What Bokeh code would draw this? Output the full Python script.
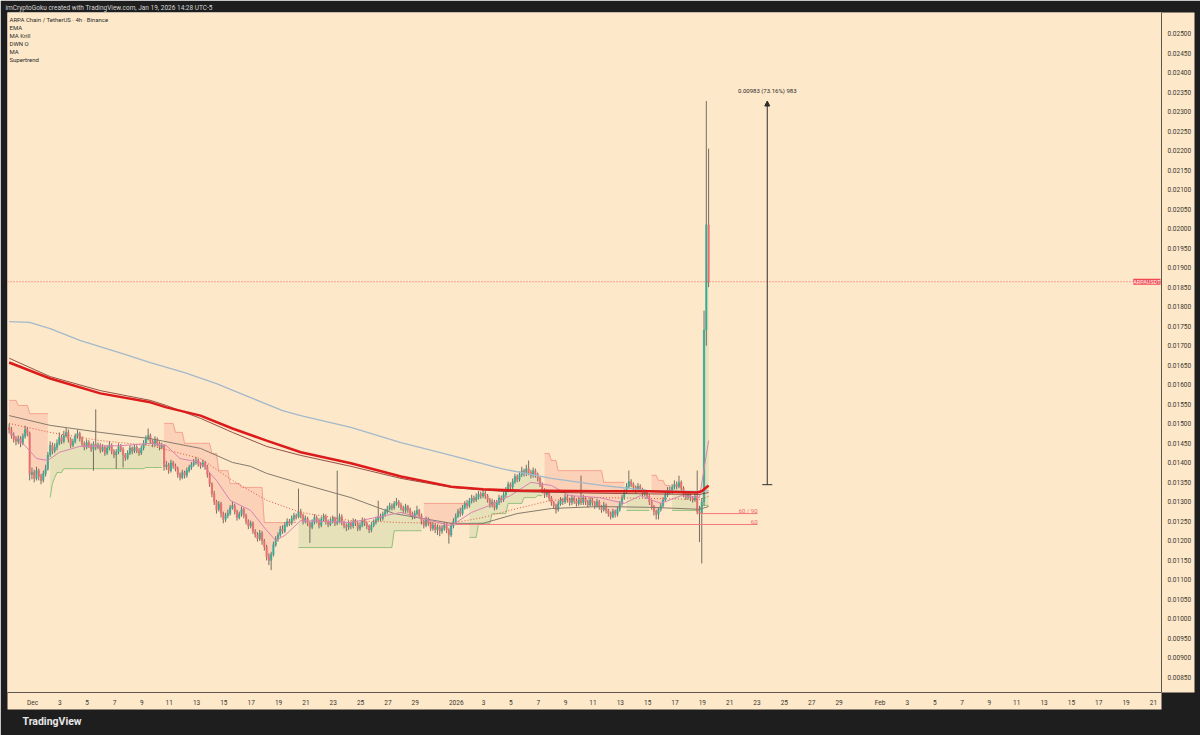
import pandas as pd
from bokeh.plotting import figure
from bokeh.models import (Range1d, FixedTicker, PrintfTickFormatter, Label, Title,
                          Arrow, NormalHead, TeeHead, Span)
from bokeh.embed import file_html
from bokeh.resources import INLINE

# ---------------- data ----------------
BAR_START = "2025-11-29 07:00"   # first 4h candle
FIRST_OPEN = 0.01490
CLOSE = [
    0.01485, 0.01470, 0.01460, 0.01455, 0.01462, 0.01450, 0.01468, 0.01485, 0.01475, 0.01370,
    0.01375, 0.01360, 0.01380, 0.01365, 0.01355, 0.01372, 0.01385, 0.01420, 0.01445, 0.01430,
    0.01440, 0.01450, 0.01465, 0.01455, 0.01470, 0.01478, 0.01460, 0.01445, 0.01455, 0.01468,
    0.01475, 0.01462, 0.01450, 0.01440, 0.01452, 0.01445, 0.01435, 0.01448, 0.01440, 0.01445,
    0.01432, 0.01440, 0.01425, 0.01438, 0.01445, 0.01430, 0.01420, 0.01428, 0.01442, 0.01435,
    0.01420, 0.01412, 0.01425, 0.01438, 0.01430, 0.01440, 0.01432, 0.01425, 0.01438, 0.01450,
    0.01462, 0.01470, 0.01455, 0.01448, 0.01460, 0.01450, 0.01440, 0.01445, 0.01390, 0.01395,
    0.01380, 0.01400, 0.01392, 0.01385, 0.01370, 0.01362, 0.01375, 0.01368, 0.01380, 0.01388,
    0.01395, 0.01400, 0.01405, 0.01398, 0.01392, 0.01400, 0.01390, 0.01370, 0.01345, 0.01320,
    0.01300, 0.01280, 0.01295, 0.01270, 0.01255, 0.01265, 0.01270, 0.01285, 0.01290, 0.01275,
    0.01260, 0.01268, 0.01280, 0.01265, 0.01250, 0.01238, 0.01245, 0.01225, 0.01215, 0.01205,
    0.01220, 0.01200, 0.01185, 0.01160, 0.01150, 0.01165, 0.01190, 0.01205, 0.01215, 0.01230,
    0.01225, 0.01240, 0.01250, 0.01245, 0.01258, 0.01265, 0.01262, 0.01275, 0.01265, 0.01250,
    0.01258, 0.01245, 0.01235, 0.01248, 0.01260, 0.01252, 0.01240, 0.01255, 0.01262, 0.01250,
    0.01242, 0.01250, 0.01258, 0.01245, 0.01250, 0.01262, 0.01248, 0.01240, 0.01235, 0.01245,
    0.01238, 0.01250, 0.01245, 0.01232, 0.01240, 0.01252, 0.01245, 0.01238, 0.01228, 0.01240,
    0.01248, 0.01255, 0.01262, 0.01258, 0.01268, 0.01275, 0.01282, 0.01290, 0.01285, 0.01295,
    0.01300, 0.01292, 0.01285, 0.01278, 0.01288, 0.01280, 0.01270, 0.01262, 0.01270, 0.01278,
    0.01265, 0.01250, 0.01240, 0.01255, 0.01245, 0.01232, 0.01240, 0.01228, 0.01235, 0.01225,
    0.01232, 0.01240, 0.01228, 0.01215, 0.01238, 0.01250, 0.01262, 0.01275, 0.01270, 0.01285,
    0.01295, 0.01290, 0.01302, 0.01310, 0.01305, 0.01312, 0.01320, 0.01315, 0.01322, 0.01315,
    0.01305, 0.01292, 0.01300, 0.01285, 0.01298, 0.01310, 0.01305, 0.01318, 0.01330, 0.01345,
    0.01338, 0.01352, 0.01365, 0.01358, 0.01370, 0.01380, 0.01372, 0.01385, 0.01375, 0.01368,
    0.01380, 0.01370, 0.01360, 0.01345, 0.01330, 0.01318, 0.01325, 0.01310, 0.01298, 0.01290,
    0.01280, 0.01295, 0.01305, 0.01300, 0.01312, 0.01305, 0.01298, 0.01310, 0.01302, 0.01295,
    0.01305, 0.01298, 0.01310, 0.01300, 0.01292, 0.01305, 0.01298, 0.01290, 0.01300, 0.01288,
    0.01280, 0.01292, 0.01278, 0.01270, 0.01262, 0.01275, 0.01268, 0.01280, 0.01295, 0.01310,
    0.01325, 0.01340, 0.01352, 0.01345, 0.01338, 0.01330, 0.01340, 0.01332, 0.01320, 0.01325,
    0.01315, 0.01300, 0.01288, 0.01275, 0.01268, 0.01280, 0.01290, 0.01305, 0.01318, 0.01330,
    0.01325, 0.01338, 0.01345, 0.01340, 0.01350, 0.01335, 0.01320, 0.01312, 0.01320, 0.01310,
    0.01305, 0.01315, 0.01275, 0.01270, 0.01300, 0.01740, 0.02010, 0.01864,
]
HIGH = [
    0.01500, 0.01492, 0.01478, 0.01468, 0.01470, 0.01468, 0.01475, 0.01495, 0.01492, 0.01480,
    0.01388, 0.01382, 0.01390, 0.01385, 0.01372, 0.01380, 0.01395, 0.01428, 0.01455, 0.01452,
    0.01450, 0.01460, 0.01478, 0.01472, 0.01482, 0.01490, 0.01485, 0.01465, 0.01462, 0.01475,
    0.01485, 0.01480, 0.01468, 0.01455, 0.01460, 0.01458, 0.01450, 0.01455, 0.01537, 0.01452,
    0.01450, 0.01448, 0.01445, 0.01445, 0.01455, 0.01450, 0.01435, 0.01435, 0.01450, 0.01448,
    0.01440, 0.01425, 0.01432, 0.01445, 0.01442, 0.01448, 0.01445, 0.01438, 0.01445, 0.01458,
    0.01470, 0.01488, 0.01475, 0.01460, 0.01468, 0.01465, 0.01455, 0.01452, 0.01448, 0.01405,
    0.01400, 0.01408, 0.01405, 0.01398, 0.01390, 0.01375, 0.01382, 0.01380, 0.01388, 0.01395,
    0.01402, 0.01410, 0.01415, 0.01410, 0.01402, 0.01408, 0.01405, 0.01395, 0.01375, 0.01350,
    0.01328, 0.01305, 0.01302, 0.01300, 0.01275, 0.01272, 0.01280, 0.01292, 0.01300, 0.01295,
    0.01280, 0.01275, 0.01288, 0.01285, 0.01270, 0.01255, 0.01252, 0.01250, 0.01230, 0.01222,
    0.01228, 0.01225, 0.01205, 0.01190, 0.01168, 0.01172, 0.01198, 0.01212, 0.01222, 0.01238,
    0.01240, 0.01248, 0.01258, 0.01256, 0.01265, 0.01272, 0.01270, 0.01334, 0.01282, 0.01270,
    0.01265, 0.01262, 0.01250, 0.01255, 0.01268, 0.01265, 0.01258, 0.01262, 0.01270, 0.01268,
    0.01255, 0.01258, 0.01265, 0.01262, 0.01380, 0.01270, 0.01268, 0.01252, 0.01245, 0.01252,
    0.01250, 0.01258, 0.01256, 0.01250, 0.01248, 0.01260, 0.01258, 0.01250, 0.01242, 0.01248,
    0.01255, 0.01262, 0.01303, 0.01270, 0.01275, 0.01282, 0.01290, 0.01298, 0.01296, 0.01302,
    0.01310, 0.01305, 0.01298, 0.01290, 0.01295, 0.01292, 0.01285, 0.01275, 0.01278, 0.01290,
    0.01282, 0.01270, 0.01255, 0.01262, 0.01260, 0.01250, 0.01248, 0.01245, 0.01242, 0.01240,
    0.01240, 0.01248, 0.01245, 0.01232, 0.01245, 0.01258, 0.01270, 0.01282, 0.01285, 0.01292,
    0.01302, 0.01305, 0.01310, 0.01318, 0.01316, 0.01322, 0.01328, 0.01326, 0.01330, 0.01328,
    0.01320, 0.01310, 0.01308, 0.01305, 0.01305, 0.01318, 0.01316, 0.01325, 0.01338, 0.01352,
    0.01350, 0.01360, 0.01372, 0.01370, 0.01378, 0.01390, 0.01385, 0.01395, 0.01406, 0.01382,
    0.01388, 0.01385, 0.01375, 0.01365, 0.01350, 0.01335, 0.01332, 0.01330, 0.01315, 0.01302,
    0.01295, 0.01302, 0.01312, 0.01310, 0.01320, 0.01318, 0.01310, 0.01318, 0.01315, 0.01308,
    0.01312, 0.01367, 0.01318, 0.01315, 0.01305, 0.01312, 0.01310, 0.01302, 0.01308, 0.01305,
    0.01292, 0.01300, 0.01296, 0.01282, 0.01275, 0.01282, 0.01280, 0.01288, 0.01302, 0.01318,
    0.01332, 0.01348, 0.01380, 0.01358, 0.01350, 0.01342, 0.01348, 0.01345, 0.01336, 0.01332,
    0.01330, 0.01320, 0.01305, 0.01292, 0.01280, 0.01286, 0.01298, 0.01312, 0.01325, 0.01338,
    0.01340, 0.01345, 0.01355, 0.01352, 0.01367, 0.01355, 0.01340, 0.01325, 0.01328, 0.01325,
    0.01315, 0.01322, 0.01380, 0.01290, 0.01310, 0.01790, 0.02327, 0.02205,
]
LOW = [
    0.01475, 0.01462, 0.01452, 0.01445, 0.01448, 0.01440, 0.01445, 0.01462, 0.01468, 0.01355,
    0.01358, 0.01350, 0.01355, 0.01355, 0.01345, 0.01350, 0.01365, 0.01380, 0.01415, 0.01422,
    0.01425, 0.01432, 0.01445, 0.01448, 0.01450, 0.01465, 0.01452, 0.01438, 0.01440, 0.01450,
    0.01462, 0.01455, 0.01442, 0.01432, 0.01435, 0.01438, 0.01428, 0.01380, 0.01432, 0.01435,
    0.01425, 0.01428, 0.01418, 0.01420, 0.01432, 0.01422, 0.01412, 0.01385, 0.01422, 0.01428,
    0.01388, 0.01405, 0.01408, 0.01420, 0.01422, 0.01425, 0.01425, 0.01418, 0.01420, 0.01432,
    0.01445, 0.01458, 0.01448, 0.01440, 0.01442, 0.01442, 0.01432, 0.01435, 0.01380, 0.01382,
    0.01372, 0.01375, 0.01385, 0.01378, 0.01362, 0.01355, 0.01358, 0.01360, 0.01362, 0.01375,
    0.01382, 0.01390, 0.01395, 0.01390, 0.01385, 0.01388, 0.01382, 0.01362, 0.01338, 0.01312,
    0.01292, 0.01270, 0.01275, 0.01260, 0.01245, 0.01248, 0.01258, 0.01265, 0.01280, 0.01268,
    0.01252, 0.01255, 0.01262, 0.01258, 0.01242, 0.01230, 0.01232, 0.01218, 0.01208, 0.01198,
    0.01200, 0.01190, 0.01175, 0.01150, 0.01138, 0.01125, 0.01160, 0.01185, 0.01198, 0.01210,
    0.01218, 0.01220, 0.01235, 0.01238, 0.01240, 0.01252, 0.01255, 0.01258, 0.01258, 0.01242,
    0.01245, 0.01238, 0.01195, 0.01230, 0.01242, 0.01245, 0.01232, 0.01235, 0.01250, 0.01242,
    0.01235, 0.01238, 0.01245, 0.01238, 0.01240, 0.01245, 0.01240, 0.01232, 0.01225, 0.01228,
    0.01230, 0.01232, 0.01238, 0.01225, 0.01226, 0.01235, 0.01238, 0.01230, 0.01220, 0.01222,
    0.01235, 0.01242, 0.01250, 0.01250, 0.01252, 0.01262, 0.01270, 0.01278, 0.01278, 0.01280,
    0.01290, 0.01285, 0.01278, 0.01270, 0.01272, 0.01272, 0.01262, 0.01255, 0.01256, 0.01265,
    0.01258, 0.01242, 0.01232, 0.01235, 0.01238, 0.01225, 0.01226, 0.01220, 0.01215, 0.01212,
    0.01218, 0.01226, 0.01220, 0.01193, 0.01210, 0.01232, 0.01245, 0.01258, 0.01262, 0.01265,
    0.01280, 0.01282, 0.01285, 0.01296, 0.01298, 0.01300, 0.01306, 0.01308, 0.01310, 0.01308,
    0.01298, 0.01285, 0.01286, 0.01278, 0.01280, 0.01292, 0.01298, 0.01300, 0.01312, 0.01325,
    0.01330, 0.01332, 0.01346, 0.01350, 0.01352, 0.01364, 0.01365, 0.01366, 0.01368, 0.01360,
    0.01362, 0.01362, 0.01352, 0.01338, 0.01322, 0.01310, 0.01312, 0.01302, 0.01290, 0.01282,
    0.01270, 0.01275, 0.01290, 0.01292, 0.01295, 0.01298, 0.01290, 0.01292, 0.01295, 0.01288,
    0.01290, 0.01292, 0.01292, 0.01292, 0.01285, 0.01288, 0.01290, 0.01282, 0.01285, 0.01280,
    0.01272, 0.01275, 0.01270, 0.01262, 0.01255, 0.01258, 0.01260, 0.01262, 0.01275, 0.01290,
    0.01305, 0.01320, 0.01335, 0.01338, 0.01330, 0.01322, 0.01325, 0.01325, 0.01312, 0.01314,
    0.01308, 0.01292, 0.01280, 0.01265, 0.01255, 0.01255, 0.01275, 0.01285, 0.01300, 0.01312,
    0.01318, 0.01320, 0.01332, 0.01332, 0.01335, 0.01328, 0.01312, 0.01305, 0.01306, 0.01302,
    0.01298, 0.01300, 0.01268, 0.01197, 0.01142, 0.01290, 0.01700, 0.01850,
]

# indicator lines: (bar index, price)
MA_BLUE = [(0, 0.01762), (9, 0.01760), (18, 0.01744), (31, 0.01714), (48, 0.01683), (62, 0.01657),
           (77, 0.01631), (91, 0.01603), (106, 0.01567), (120, 0.01534), (128, 0.01521), (150, 0.01491),
           (172, 0.01452), (194, 0.01419), (216, 0.01385), (238, 0.01360), (260, 0.01342), (281, 0.01329),
           (303, 0.01327), (307, 0.01329)]
EMA_RED = [(0, 0.01657), (18, 0.01616), (40, 0.01578), (62, 0.01555), (69, 0.01542), (84, 0.01521),
           (98, 0.01488), (113, 0.01457), (128, 0.01427), (150, 0.01399), (172, 0.01365), (194, 0.01339),
           (208, 0.01332), (224, 0.01329), (259, 0.01327), (281, 0.01327), (302, 0.01324), (304, 0.01327),
           (307, 0.01342)]
MA_MAROON = [(0, 0.01668), (18, 0.01621), (40, 0.01585), (62, 0.01560), (69, 0.01547), (84, 0.01514),
             (98, 0.01478), (113, 0.01442), (128, 0.01419), (150, 0.01391), (172, 0.01360), (194, 0.01337),
             (216, 0.01327), (259, 0.01322), (303, 0.01319), (307, 0.01324)]
MA_GRAY = [(0, 0.01521), (18, 0.01496), (40, 0.01478), (62, 0.01462), (84, 0.01437), (98, 0.01401),
           (106, 0.01391), (113, 0.01373), (128, 0.01347), (150, 0.01311), (169, 0.01270), (194, 0.01245),
           (208, 0.01245), (223, 0.01270), (238, 0.01283), (259, 0.01288), (281, 0.01286), (303, 0.01281),
           (307, 0.01288)]
EMA_DOTTED = [(0, 0.01501), (18, 0.01478), (40, 0.01457), (62, 0.01444), (84, 0.01411), (98, 0.01355),
              (113, 0.01304), (128, 0.01273), (150, 0.01252), (172, 0.01247), (194, 0.01245), (208, 0.01260),
              (223, 0.01283), (238, 0.01304), (259, 0.01311), (281, 0.01309), (303, 0.01306), (307, 0.01314)]
MA_PINK = [(0, 0.01478), (5, 0.01457), (12, 0.01411), (17, 0.01406), (22, 0.01427), (31, 0.01442),
           (49, 0.01444), (62, 0.01450), (69, 0.01444), (75, 0.01411), (84, 0.01401), (91, 0.01355),
           (97, 0.01304), (106, 0.01278), (113, 0.01227), (117, 0.01201), (121, 0.01214), (128, 0.01252),
           (150, 0.01247), (172, 0.01273), (185, 0.01252), (194, 0.01239), (203, 0.01273), (211, 0.01291),
           (220, 0.01316), (229, 0.01350), (238, 0.01342), (246, 0.01316), (259, 0.01311), (270, 0.01296),
           (277, 0.01316), (286, 0.01296), (295, 0.01316), (303, 0.01311), (307, 0.01457)]

# supertrend step segments: (first bar, last bar, level)
ST_UP = [(18, 18, 0.01311), (19, 19, 0.01347), (20, 20, 0.01362), (21, 23, 0.01375), (24, 59, 0.01385),
         (60, 67, 0.01388), (127, 168, 0.01183), (169, 181, 0.01226), (202, 205, 0.01209),
         (206, 211, 0.01245), (212, 218, 0.01270), (219, 225, 0.01296), (226, 231, 0.01311),
         (232, 234, 0.01316), (271, 281, 0.01278), (291, 303, 0.01278), (304, 307, 0.01291)]
ST_DN = [(0, 3, 0.01560), (4, 8, 0.01547), (9, 17, 0.01526), (68, 72, 0.01501), (73, 76, 0.01478),
         (77, 88, 0.01450), (89, 91, 0.01424), (92, 96, 0.01380), (97, 101, 0.01347), (102, 111, 0.01337),
         (112, 126, 0.01247), (182, 201, 0.01296), (235, 237, 0.01424), (238, 240, 0.01406),
         (241, 260, 0.01380), (261, 270, 0.01350), (282, 284, 0.01368), (285, 287, 0.01355),
         (288, 290, 0.01342)]

# drawings
LEVELS = [("60 / 90", 0.01270, "2026-01-18 20:00", "2026-01-23 01:00"),
          ("60", 0.01242, "2025-12-31 22:00", "2026-01-23 01:00")]
MEASURE_TIME = "2026-01-23 18:00"
MEASURE_FROM = 0.01344
MEASURE_TO = 0.02327
MEASURE_TEXT = "0.00983 (73.16%) 983"

LEGEND_LINES = ["ARPA Chain / TetherUS · 4h · Binance", "EMA", "MA Krill", "DWN O", "MA", "Supertrend"]
HEADER = "imCryptoGoku created with TradingView.com, Jan 19, 2026 14:28 UTC-5"
SYMBOL = "ARPAUSDT"

X_TICK_DATES = ["2025-12-01", "2025-12-03", "2025-12-05", "2025-12-07", "2025-12-09", "2025-12-11",
                "2025-12-13", "2025-12-15", "2025-12-17", "2025-12-19", "2025-12-21", "2025-12-23",
                "2025-12-25", "2025-12-27", "2025-12-29", "2026-01-01", "2026-01-03", "2026-01-05",
                "2026-01-07", "2026-01-09", "2026-01-11", "2026-01-13", "2026-01-15", "2026-01-17",
                "2026-01-19", "2026-01-21", "2026-01-23", "2026-01-25", "2026-01-27", "2026-01-29",
                "2026-02-01", "2026-02-03", "2026-02-05", "2026-02-07", "2026-02-09", "2026-02-11",
                "2026-02-13", "2026-02-15", "2026-02-17", "2026-02-19", "2026-02-21"]
X_TICK_LABELS = ["Dec", "3", "5", "7", "9", "11", "13", "15", "17", "19", "21", "23", "25", "27", "29",
                 "2026", "3", "5", "7", "9", "11", "13", "15", "17", "19", "21", "23", "25", "27", "29",
                 "Feb", "3", "5", "7", "9", "11", "13", "15", "17", "19", "21"]
Y_TICKS = [0.0080, 0.0085, 0.0090, 0.0095, 0.0100, 0.0105, 0.0110, 0.0115, 0.0120, 0.0125, 0.0130,
           0.0135, 0.0140, 0.0145, 0.0150, 0.0155, 0.0160, 0.0165, 0.0170, 0.0175, 0.0180, 0.0185,
           0.0190, 0.0195, 0.0200, 0.0205, 0.0210, 0.0215, 0.0220, 0.0225, 0.0230, 0.0235, 0.0240,
           0.0245, 0.0250]

# ---------------- styling / layout ----------------
BG = "#fde8c9"
DARK = "#1e1e1e"
UP = "#35ad9a"
DOWN = "#ee6d6b"
WICK = "#5e5850"
FONT = "Roboto"
DAY_MS = 86400000


def ms(s):
    return int(pd.Timestamp(s).value // 10**6)


T_DEC1 = ms("2025-12-01")
PX_PER_DAY = 13.67          # horizontal scale of the reference
PX_PER_UNIT = 39030.0       # vertical scale of the reference
FRAME_L, FRAME_R, FRAME_T, FRAME_B = 7, 1161, 12, 692


def x_at(px):               # picture x -> time (ms)
    return T_DEC1 + (px - 32) / PX_PER_DAY * DAY_MS


def y_at(py):               # picture y -> price
    return 0.025 - (py - 33) / PX_PER_UNIT


times = [int(t.value // 10**6) for t in pd.date_range(BAR_START, periods=len(CLOSE), freq="4h")]
opens = [FIRST_OPEN] + CLOSE[:-1]
BAR_MS = 4 * 3600 * 1000

p = figure(width=1200, height=735,
           x_range=Range1d(x_at(FRAME_L), x_at(FRAME_R)), y_range=Range1d(y_at(FRAME_B), y_at(FRAME_T)),
           y_axis_location="right", output_backend="svg", toolbar_location=None,
           min_border_left=FRAME_L, min_border_right=1200 - FRAME_R, min_border_top=FRAME_T,
           min_border_bottom=735 - FRAME_B,
           background_fill_color=BG, border_fill_color=DARK, outline_line_color=None)

p.title.text = HEADER
p.title.text_color = "#d6d6d6"
p.title.text_font = FONT
p.title.text_font_size = "6.5px"
p.title.text_font_style = "normal"
p.title.standoff = 1
p.title.offset = -2
p.add_layout(Title(text="TradingView", align="left", text_font=FONT, text_font_size="10.5px",
                   text_font_style="bold", text_color="#e8e8e8", offset=15, standoff=7), "below")

p.xgrid.visible = False
p.ygrid.visible = False
for ax in list(p.xaxis) + list(p.yaxis):
    try:
        ax.background_fill_color = BG
    except Exception:
        pass
    ax.major_tick_out = 0
    ax.major_tick_in = 0
    ax.minor_tick_out = 0
    ax.minor_tick_in = 0
    ax.major_label_text_font = FONT
    ax.major_label_text_font_size = "6.5px"
    ax.major_label_text_color = "#3b3630"
    ax.axis_line_color = "#5d564c"

x_ticks = [ms(d) for d in X_TICK_DATES]
p.xaxis.ticker = FixedTicker(ticks=x_ticks)
p.xaxis.major_label_overrides = {t: lab for t, lab in zip(x_ticks, X_TICK_LABELS)}
p.xaxis.major_label_standoff = 6
p.yaxis.ticker = FixedTicker(ticks=Y_TICKS)
p.yaxis.formatter = PrintfTickFormatter(format="%.5f")
p.yaxis.major_label_standoff = 6


# ---------------- supertrend ----------------
def runs(segs):
    out = []
    for s, e, v in sorted(segs):
        if out and out[-1][-1][1] == s - 1:
            out[-1].append((s, e, v))
        else:
            out.append([(s, e, v)])
    return out


for segs, fill, line in ((ST_UP, "#4caf50", "#7bb86a"), (ST_DN, "#f23645", "#f4927f")):
    for run in runs(segs):
        xs, st, mid = [], [], []
        for s, e, v in run:
            for i in range(s, e + 1):
                xs.append(times[i])
                st.append(v)
                mid.append((opens[i] + CLOSE[i]) / 2)
        p.varea(x=xs, y1=st, y2=mid, fill_color=fill, fill_alpha=0.13)
        p.line(xs, st, line_color=line, line_width=1, line_alpha=0.8)

# ---------------- candles ----------------
up_idx = [i for i in range(len(CLOSE)) if CLOSE[i] >= opens[i]]
dn_idx = [i for i in range(len(CLOSE)) if CLOSE[i] < opens[i]]
p.segment(x0=times, y0=LOW, x1=times, y1=HIGH, line_color=WICK, line_width=1, line_alpha=0.85)
p.vbar(x=[times[i] for i in up_idx], width=BAR_MS * 0.62,
       top=[CLOSE[i] for i in up_idx], bottom=[opens[i] for i in up_idx],
       fill_color=UP, line_color=UP, line_width=0.5)
p.vbar(x=[times[i] for i in dn_idx], width=BAR_MS * 0.62,
       top=[opens[i] for i in dn_idx], bottom=[CLOSE[i] for i in dn_idx],
       fill_color=DOWN, line_color=DOWN, line_width=0.5)


# ---------------- moving averages ----------------
def draw(pts, **kw):
    p.line([times[i] for i, _ in pts], [v for _, v in pts], **kw)


draw(MA_BLUE, line_color="#a3b9cb", line_width=1.3)
draw(MA_GRAY, line_color="#857b6c", line_width=1)
draw(EMA_DOTTED, line_color="#e2553f", line_width=1, line_dash="1 2")
draw(MA_PINK, line_color="#d883b0", line_width=1)
draw(MA_MAROON, line_color="#7c2b25", line_width=1, line_alpha=0.8)
draw(EMA_RED, line_color="#dd1b1b", line_width=2.5)

# ---------------- drawings ----------------
for text, lvl, t0, t1 in LEVELS:
    p.segment(x0=[ms(t0)], y0=[lvl], x1=[ms(t1)], y1=[lvl], line_color="#f3787c", line_width=1)
    p.add_layout(Label(x=ms(t1), y=lvl, text=text, text_align="right", text_baseline="bottom",
                       text_font=FONT, text_font_size="6px", text_color="#f06a70"))

last = CLOSE[-1]
p.add_layout(Span(location=last, dimension="width", line_color="#f23645", line_width=1,
                  line_dash="1 2", line_alpha=0.8))

mx = ms(MEASURE_TIME)
p.add_layout(Arrow(x_start=mx, y_start=MEASURE_FROM, x_end=mx, y_end=MEASURE_TO,
                   line_color="#2e2e2e", line_width=1,
                   start=TeeHead(size=10, line_color="#2e2e2e", line_width=1),
                   end=NormalHead(size=5, fill_color="#2e2e2e", line_color="#2e2e2e")))
p.add_layout(Label(x=mx, y=y_at(90), text=MEASURE_TEXT, text_align="center", text_baseline="middle",
                   text_font=FONT, text_font_size="6px", text_color="#2a2a2a"))

for k, line in enumerate(LEGEND_LINES):
    p.add_layout(Label(x=x_at(9), y=y_at(19 + 8 * k), text=line, text_baseline="middle",
                       text_font=FONT, text_font_size="6px", text_color="#2b2b2b"))

# symbol tag on the last-price line
p.add_layout(Label(x=x_at(1160), y=last, text=SYMBOL, text_align="right", text_baseline="middle",
                   text_font=FONT, text_font_size="5.5px", text_color="white",
                   background_fill_color="#f23645", background_fill_alpha=0.9))

open("out.html", "w").write(file_html(p, INLINE))
